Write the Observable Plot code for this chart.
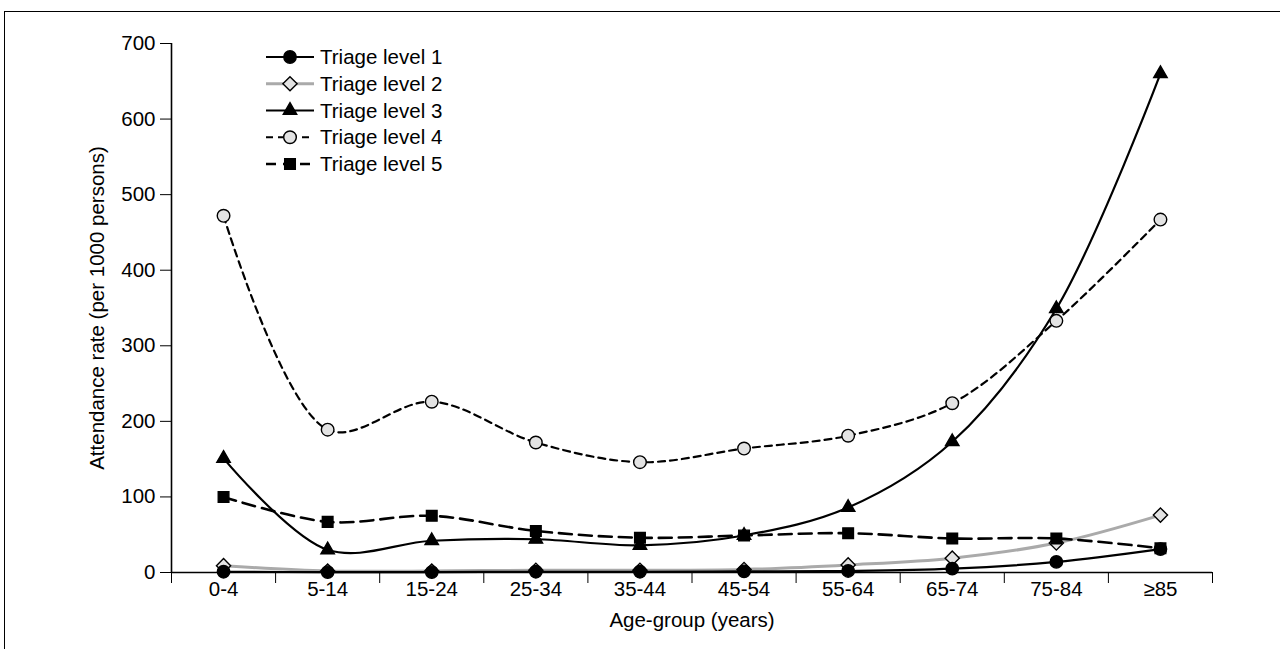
<!DOCTYPE html>
<html><head><meta charset="utf-8">
<script src="https://cdn.jsdelivr.net/npm/d3@7"></script>
<script src="https://cdn.jsdelivr.net/npm/@observablehq/plot@0.6"></script>
<style>
body{margin:0;background:#fff;font-family:"Liberation Sans",Arial,Helvetica,sans-serif;}
#wrap{position:relative;width:1280px;height:649px;overflow:hidden;background:#fff;}
#frame{position:absolute;left:4px;top:11px;right:-10px;bottom:-10px;border-top:1.5px solid #000;border-left:1.5px solid #000;}
#chart{position:absolute;left:0;top:0;}
</style></head><body>
<div id="wrap"><div id="frame"></div><div id="chart"></div></div>
<script>
const ageGroups = ["0-4","5-14","15-24","25-34","35-44","45-54","55-64","65-74","75-84","≥85"];
const seriesNames = ["Triage level 1","Triage level 2","Triage level 3","Triage level 4","Triage level 5"];
const level1 = [1, 0.5, 0.5, 1, 1, 1.5, 2, 5, 14, 31];
const level2 = [9, 2, 2, 3, 3, 4, 10, 19, 39, 76];
const level3 = [151, 30, 42, 44, 36, 49, 86, 173, 349, 660];
const level4 = [472, 189, 226, 172, 146, 164, 181, 224, 333, 467];
const level5 = [100, 67, 75, 55, 46, 49, 52, 45, 45, 32];
const yTicks = [0,100,200,300,400,500,600,700];

const allValues = [level1, level2, level3, level4, level5];
const styles = [
  {stroke:"#000", width:2.2, dash:null, legendDash:null, symbol:"circle", r:6.2, fill:"#000"},
  {stroke:"#aaa", width:3, dash:null, legendDash:null, symbol:"diamond2", r:6.4, fill:"#e3e3e3"},
  {stroke:"#000", width:2.2, dash:null, legendDash:null, symbol:"triangle", r:5, fill:"#000"},
  {stroke:"#000", width:2.2, dash:"7,5", legendDash:"7,5", symbol:"circle", r:6.3, fill:"#e3e3e3"},
  {stroke:"#000", width:2.6, dash:"13,7", legendDash:"10,7", symbol:"square", r:6, fill:"#000"}
];
const rows = allValues.map((vals, s) => vals.map((v, i) => ({series: seriesNames[s], idx: i, age: ageGroups[i], value: v})));
const boundaries = d3.range(ageGroups.length + 1).map(i => i - 0.5);

const font = '"Liberation Sans", Arial, Helvetica, sans-serif';
const FS = 20.5;
const lineMarks = [];
const dotMarks = [];
const order = [1, 0, 4, 3, 2];
order.forEach(s => {
  const st = styles[s];
  lineMarks.push(Plot.line(rows[s], {x:"idx", y:"value", curve:"catmull-rom", stroke:st.stroke, strokeWidth:st.width, strokeDasharray:st.dash}));
});
order.forEach(s => {
  const st = styles[s];
  dotMarks.push(Plot.dot(rows[s], {x:"idx", y:"value", symbol:st.symbol, r:st.r, fill:st.fill, stroke:"#000", strokeWidth:1.4}));
});

const chart = Plot.plot({
  width:1280, height:649,
  marginLeft:171, marginRight:68, marginTop:43, marginBottom:77,
  style:{fontFamily:font, fontSize:FS + "px", color:"#000", background:"transparent", overflow:"visible"},
  x:{type:"linear", domain:[-0.5, ageGroups.length - 0.5]},
  y:{domain:[0,700]},
  marks:[
    Plot.axisY({ticks:yTicks, tickSize:11, tickPadding:5, fontSize:FS, label:"Attendance rate (per 1000 persons)", labelAnchor:"center", labelOffset:82, labelArrow:false}),
    Plot.axisX({ticks:boundaries, tickSize:11, tickFormat:() => "", label:null}),
    Plot.axisX({ticks:d3.range(ageGroups.length), tickSize:0, tickPadding:9, fontSize:FS, tickFormat:i => ageGroups[i], label:"Age-group (years)", labelAnchor:"center", labelOffset:54, labelArrow:false}),
    Plot.ruleX([-0.5], {stroke:"#000", strokeWidth:1.6}),
    Plot.ruleY([0], {stroke:"#000", strokeWidth:1.6}),
    ...lineMarks,
    ...dotMarks
  ]
});
document.getElementById("chart").appendChild(chart);

// Legend
const svg = d3.select(chart);
const lg = svg.append("g").attr("font-family", font).attr("font-size", FS).attr("text-anchor", "start");
const lx0 = 266, lx1 = 314, ly0 = 57, dy = 26.75;
const symMap = {circle:d3.symbolCircle, diamond2:d3.symbolDiamond2, triangle:d3.symbolTriangle, square:d3.symbolSquare};
seriesNames.forEach((name, s) => {
  const st = styles[s];
  const y = ly0 + s * dy;
  const g = lg.append("g").attr("transform", `translate(0,${y})`);
  g.append("line").attr("x1", lx0).attr("x2", lx1).attr("y1", 0).attr("y2", 0)
    .attr("stroke", st.stroke).attr("stroke-width", st.width)
    .attr("stroke-dasharray", st.legendDash);
  g.append("path").attr("transform", `translate(${(lx0+lx1)/2},0)`)
    .attr("d", d3.symbol(symMap[st.symbol], st.r * st.r * Math.PI)())
    .attr("fill", st.fill).attr("stroke", "#000").attr("stroke-width", 1.4);
  g.append("text").attr("x", 320).attr("y", 0).attr("dy", "0.35em").attr("fill", "#000").style("font-size", FS + "px").text(name);
});
</script>
</body></html>
